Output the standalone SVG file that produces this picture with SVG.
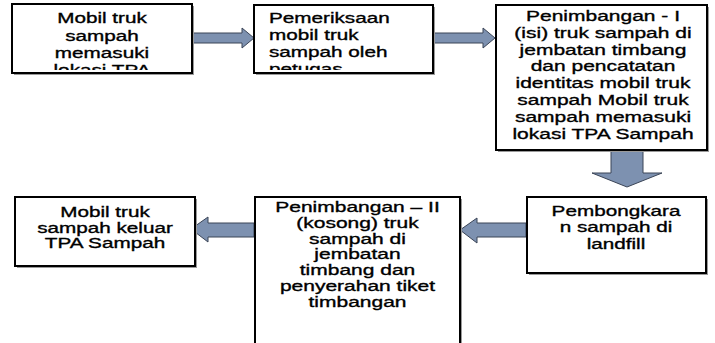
<svg xmlns="http://www.w3.org/2000/svg" width="715" height="343" viewBox="0 0 715 343">
<style>
.box{fill:#fff;stroke:#000;stroke-width:2}
.shadow{fill:#9a9a9a}
.t{font-family:"Liberation Sans",Arial,sans-serif;font-size:15px;fill:#000;stroke:#000;stroke-width:0.35}
.c{text-anchor:middle}
.arrow{fill:#7d91b0;stroke:#3a4456;stroke-width:1;stroke-linejoin:miter}
</style>
<defs>
<clipPath id="clip1"><rect x="13" y="5" width="178" height="65"/></clipPath>
<clipPath id="clip2"><rect x="255" y="6" width="177" height="64"/></clipPath>
</defs>
<rect width="715" height="343" fill="#fff"/>

<g id="connectors">
<path class="arrow" d="M192,33 H242 V28 L254,38 L242,48 V43 H192 Z"/>
<path class="arrow" d="M433,33 H483 V28 L495,38 L483,48 V43 H433 Z"/>
<path class="arrow" d="M611,151 H643 V173 H662 L627,187 L592,173 H611 Z"/>
<path class="arrow" d="M526,223 H477 V218 L460,230 L477,243 V237 H526 Z"/>
<path class="arrow" d="M254,223 H208 V217 L191,229 L208,242 V237 H254 Z"/>
</g>

<g id="node1">
<rect class="shadow" x="14" y="6" width="180" height="69"/>
<rect class="box" x="12" y="4" width="180" height="69"/>
<g clip-path="url(#clip1)">
<g class="t c" transform="translate(102,0) scale(1.38,1)">
<text x="0" y="23.5">Mobil truk</text>
<text x="0" y="40.6">sampah</text>
<text x="0" y="57.7">memasuki</text>
<text x="0" y="74.8">lokasi TPA</text>
</g>
</g>
</g>

<g id="node2">
<rect class="shadow" x="256" y="7" width="179" height="68"/>
<rect class="box" x="254" y="5" width="179" height="68"/>
<g clip-path="url(#clip2)">
<g class="t" transform="translate(269,0) scale(1.38,1)">
<text x="0" y="22.7">Pemeriksaan</text>
<text x="0" y="39.7">mobil truk</text>
<text x="0" y="56.7">sampah oleh</text>
<text x="0" y="73.7">petugas</text>
</g>
</g>
</g>

<g id="node3">
<rect class="shadow" x="498" y="7" width="211" height="145"/>
<rect class="box" x="496" y="5" width="211" height="145"/>
<g class="t c" transform="translate(603,0) scale(1.4,1)">
<text x="0" y="20.7">Penimbangan - I</text>
<text x="0" y="37.6">(isi) truk  sampah di</text>
<text x="0" y="54.6">jembatan timbang</text>
<text x="0" y="71.5">dan pencatatan</text>
<text x="0" y="88.5">identitas mobil truk</text>
<text x="0" y="105.4">sampah Mobil truk</text>
<text x="0" y="122.3">sampah memasuki</text>
<text x="0" y="139.3">lokasi TPA Sampah</text>
</g>
</g>

<g id="node4">
<rect class="shadow" x="529" y="199" width="179" height="76"/>
<rect class="box" x="527" y="197" width="179" height="76"/>
<g class="t c" transform="translate(616,0) scale(1.38,1)">
<text x="0" y="215.7">Pembongkara</text>
<text x="0" y="232.2">n  sampah di</text>
<text x="0" y="248.7">landfill</text>
</g>
</g>

<g id="node5">
<rect class="shadow" x="257" y="199" width="205" height="150"/>
<rect class="box" x="255" y="197" width="205" height="150"/>
<g class="t c" transform="translate(357.5,0) scale(1.4,1)">
<text x="0" y="211.7">Penimbangan – II</text>
<text x="0" y="228">(kosong) truk</text>
<text x="0" y="243.6">sampah di</text>
<text x="0" y="259.5">jembatan</text>
<text x="0" y="275.5">timbang dan</text>
<text x="0" y="291.4">penyerahan tiket</text>
<text x="0" y="307">timbangan</text>
</g>
</g>

<g id="node6">
<rect class="shadow" x="17" y="199" width="180" height="69"/>
<rect class="box" x="15" y="197" width="180" height="69"/>
<g class="t c" transform="translate(105,0) scale(1.38,1)">
<text x="0" y="216.7">Mobil truk</text>
<text x="0" y="232.7">sampah keluar</text>
<text x="0" y="248.5">TPA Sampah</text>
</g>
</g>
</svg>
